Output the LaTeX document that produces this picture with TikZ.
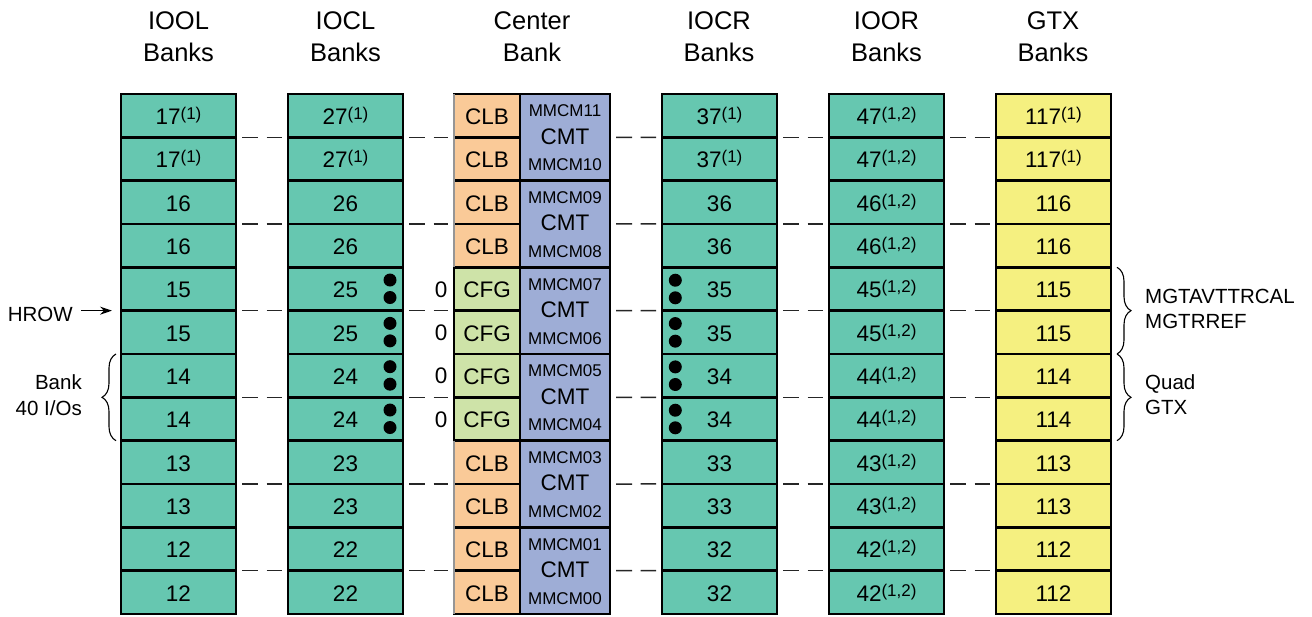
\documentclass[tikz,border=0pt]{standalone}
\usepackage{fontspec}
\setmainfont{Liberation Sans}
\usetikzlibrary{decorations.pathreplacing,arrows.meta}
\definecolor{bankteal}{RGB}{102,199,176}
\definecolor{clborange}{RGB}{250,202,152}
\definecolor{cfggreen}{RGB}{206,227,168}
\definecolor{cmtblue}{RGB}{158,173,214}
\definecolor{gtxyellow}{RGB}{245,240,128}
\definecolor{clbedge}{RGB}{150,150,150}
\newcommand\numfont{\fontsize{22.5}{24}\selectfont}
\newcommand\headfont{\fontsize{25.5}{28}\selectfont}
\newcommand\notefont{\fontsize{20.5}{24}\selectfont}
\newcommand\mmfont{\fontsize{17}{18}\selectfont}
\newcommand\sps[1]{\raisebox{5pt}{\fontsize{17}{18}\selectfont(#1)}}
\newcommand\spa{\sps{1}}
\newcommand\spb{\sps{1,2}}
\begin{document}
\begin{tikzpicture}[x=1pt,y=-1pt,
  cell/.style={draw=black,line width=2.8pt,minimum width=115pt,minimum height=43.333pt,
    inner sep=0pt,outer sep=0pt,text height=18pt,text depth=0pt,font=\numfont,anchor=north west},
  ctrcell/.style={cell,minimum width=66pt},
  cmtcell/.style={cell,minimum width=90pt,minimum height=86.667pt,text height=13.8pt,fill=cmtblue},
  mm/.style={font=\mmfont,inner sep=0pt,anchor=base},
  head/.style={font=\headfont,inner sep=0pt,anchor=base},
  note/.style={font=\notefont,inner sep=0pt},
  conn/.style={line width=1.5pt,black!85,dash pattern=on 16pt off 8.5pt},
  dot/.style={fill=black},
  bracestyle/.style={line width=1.1pt,decorate,decoration={brace,amplitude=14pt}}
]
\useasboundingbox (0,0) rectangle (1312,617);

% headers
\node[head] (h1a) at (178.5,29.3) {IOOL};
\node[head] (h1b) at (178.5,61.7) {Banks};
\node[head] (h2a) at (345.5,29.3) {IOCL};
\node[head] (h2b) at (345.5,61.7) {Banks};
\node[head] (h3a) at (532,29.3) {Center};
\node[head] (h3b) at (532,61.7) {Bank};
\node[head] (h4a) at (719,29.3) {IOCR};
\node[head] (h4b) at (719,61.7) {Banks};
\node[head] (h5a) at (886.5,29.3) {IOOR};
\node[head] (h5b) at (886.5,61.7) {Banks};
\node[head] (h6a) at (1053,29.3) {GTX};
\node[head] (h6b) at (1053,61.7) {Banks};

% IOOL
\foreach \i/\lab in {1/17\spa,2/17\spa,3/16,4/16,5/15,6/15,7/14,8/14,9/13,10/13,11/12,12/12}{
  \node[cell,fill=bankteal] (iool\i) at (121,{94+43.333*(\i-1)}) {\lab};
}
% IOCL
\foreach \i/\lab in {1/27\spa,2/27\spa,3/26,4/26,5/25,6/25,7/24,8/24,9/23,10/23,11/22,12/22}{
  \node[cell,fill=bankteal] (iocl\i) at (288,{94+43.333*(\i-1)}) {\lab};
}
% Center: CLB / CFG
\foreach \i in {1,2,3,4,9,10,11,12}{
  \node[ctrcell,fill=clborange] (ctr\i) at (454,{94+43.333*(\i-1)}) {CLB};
}
\foreach \i in {5,6,7,8}{
  \node[ctrcell,fill=cfggreen] (ctr\i) at (454,{94+43.333*(\i-1)}) {CFG};
}
\draw[clbedge,line width=2.8pt] (ctr1.north west) -- (ctr4.south west);
\draw[clbedge,line width=2.8pt] (ctr9.north west) -- (ctr12.south west);
% CMT
\foreach \k/\up/\dn in {1/11/10,2/09/08,3/07/06,4/05/04,5/03/02,6/01/00}{
  \node[cmtcell] (cmt\k) at (520,{94+86.667*(\k-1)}) {CMT};
  \node[mm] (mmu\k) at ([yshift=-22.7pt]cmt\k.north) {MMCM\up};
  \node[mm] (mmd\k) at ([yshift=-76.7pt]cmt\k.north) {MMCM\dn};
}
% IOCR
\foreach \i/\lab in {1/37\spa,2/37\spa,3/36,4/36,5/35,6/35,7/34,8/34,9/33,10/33,11/32,12/32}{
  \node[cell,fill=bankteal] (iocr\i) at (662,{94+43.333*(\i-1)}) {\lab};
}
% IOOR
\foreach \i/\lab in {1/47,2/47,3/46,4/46,5/45,6/45,7/44,8/44,9/43,10/43,11/42,12/42}{
  \node[cell,fill=bankteal] (ioor\i) at (829,{94+43.333*(\i-1)}) {\lab\spb};
}
% GTX
\foreach \i/\lab in {1/117\spa,2/117\spa,3/116,4/116,5/115,6/115,7/114,8/114,9/113,10/113,11/112,12/112}{
  \node[cell,fill=gtxyellow] (gtx\i) at (996,{94+43.333*(\i-1)}) {\lab};
}

% dots and zeros
\foreach \i in {5,6,7,8}{
  \fill[dot] ([xshift=-13pt,yshift=-12.7pt]iocl\i.north east) circle (6.5pt);
  \fill[dot] ([xshift=-13pt,yshift=-30.2pt]iocl\i.north east) circle (6.5pt);
  \fill[dot] ([xshift=13.3pt,yshift=-12.9pt]iocr\i.north west) circle (6.5pt);
  \fill[dot] ([xshift=13.3pt,yshift=-30.5pt]iocr\i.north west) circle (6.5pt);
  \node[font=\numfont,inner sep=0pt,anchor=base east] (zero\i) at ([xshift=-6.5pt,yshift=-29.8pt]ctr\i.north west) {0};
}

% dashed connectors
\foreach \i in {2,4,6,8,10,12}{
  \pgfmathtruncatemacro\k{\i/2}
  \draw[conn] ([xshift=6pt]iool\i.north east) -- ([xshift=-6pt]iocl\i.north west);
  \draw[conn] ([xshift=6pt]iocl\i.north east) -- ([xshift=-6pt]ctr\i.north west);
  \draw[conn] ([xshift=6pt]cmt\k.east) -- ([xshift=-6pt]iocr\i.north west);
  \draw[conn] ([xshift=6pt]iocr\i.north east) -- ([xshift=-6pt]ioor\i.north west);
  \draw[conn] ([xshift=6pt]ioor\i.north east) -- ([xshift=-6pt]gtx\i.north west);
}

% left annotations
\node[note,anchor=base east] (hrow) at (73,322) {HROW};
\coordinate (hrowstart) at ([xshift=8pt]hrow.east |- iool6.north west);
\draw[line width=1.4pt,-{Stealth[length=12pt,width=8pt]}] (hrowstart) -- ([xshift=-9pt]iool6.north west);
\node[note,anchor=base east] (bank) at (82,390) {Bank};
\node[note,anchor=base east] (bankio) at (82,415.3) {40 I/Os};
\draw[bracestyle] ([xshift=-5pt]iool8.south west) -- ([xshift=-5pt]iool7.north west);

% right annotations
\draw[bracestyle] ([xshift=6pt]gtx5.north east) -- ([xshift=6pt]gtx6.south east);
\draw[bracestyle] ([xshift=6pt]gtx7.north east) -- ([xshift=6pt]gtx8.south east);
\node[note,anchor=base west] (mgta) at (1145,303.3) {MGTAVTTRCAL};
\node[note,anchor=base west] (mgtr) at (1145,328.3) {MGTRREF};
\node[note,anchor=base west] (quad) at (1145,390) {Quad};
\node[note,anchor=base west] (gtxl) at (1145,415) {GTX};
\end{tikzpicture}
\end{document}
